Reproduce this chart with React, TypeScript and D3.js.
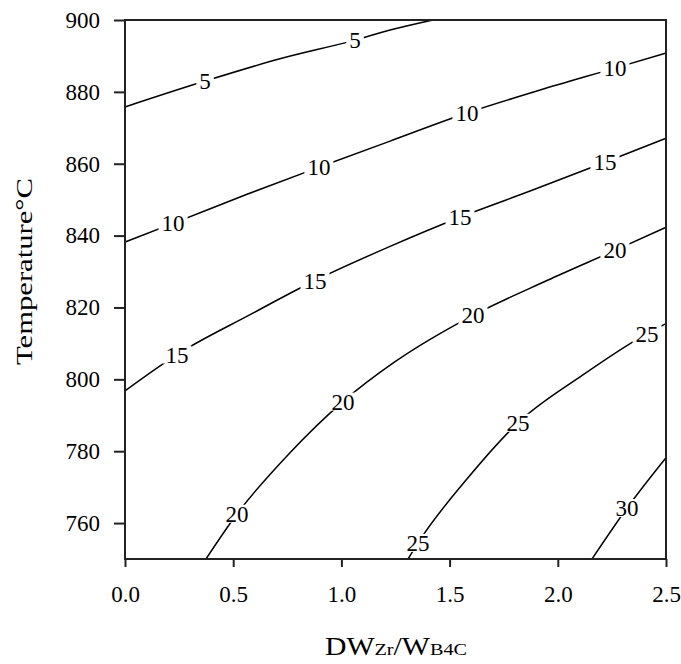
import React, { useEffect, useRef } from "react";
import * as d3 from "d3";

// contour lines: [DW_Zr/W_B4C, temperature]
const contour5: [number, number][] = [[0, 875.8], [0.37, 883.0], [0.716, 889.2], [1.063, 894.4], [1.225, 897.2], [1.423, 900]];
const contour10: [number, number][] = [[0, 838.2], [0.222, 843.4], [0.564, 851.5], [0.896, 859.0], [1.225, 866.3], [1.58, 874.1], [1.918, 880.5], [2.264, 886.6], [2.5, 890.8]];
const contour15: [number, number][] = [[0, 796.8], [0.24, 806.9], [0.578, 818.0], [0.878, 827.5], [1.225, 837.0], [1.548, 845.1], [1.881, 852.6], [2.218, 860.4], [2.5, 867.1]];
const contour20: [number, number][] = [[0.374, 750], [0.518, 762.6], [0.758, 779.3], [1.007, 793.8], [1.248, 804.9], [1.608, 817.8], [1.95, 827.5], [2.264, 835.9], [2.5, 842.3]];
const contour25: [number, number][] = [[1.308, 750], [1.354, 754.5], [1.585, 772.6], [1.816, 787.9], [2.111, 801.0], [2.412, 812.7], [2.5, 815.5]];
const contour30: [number, number][] = [[2.158, 750], [2.32, 764.2], [2.5, 778.2]];

const contours = [contour5, contour10, contour15, contour20, contour25, contour30];

// inline labels: [level, x, temperature]
const labels: [number, number, number][] = [
  [5, 0.37, 883.0], [5, 1.063, 894.4],
  [10, 0.222, 843.4], [10, 0.896, 859.0], [10, 1.58, 874.1], [10, 2.264, 886.6],
  [15, 0.24, 806.9], [15, 0.878, 827.5], [15, 1.548, 845.1], [15, 2.218, 860.4],
  [20, 0.518, 762.6], [20, 1.007, 793.8], [20, 1.608, 817.8], [20, 2.264, 835.9],
  [25, 1.354, 754.5], [25, 1.816, 787.9], [25, 2.412, 812.7],
  [30, 2.32, 764.2]
];

const xTicks = [0, 0.5, 1.0, 1.5, 2.0, 2.5];
const yTicks = [760, 780, 800, 820, 840, 860, 880, 900];

const FONT = "'Liberation Serif', 'Times New Roman', serif";

export default function App() {
  const ref = useRef<SVGSVGElement | null>(null);

  useEffect(() => {
    const margin = { top: 20, right: 15, bottom: 105, left: 125 };
    const width = 681 - margin.left - margin.right;
    const height = 664 - margin.top - margin.bottom;

    const root = d3.select(ref.current);
    root.selectAll("*").remove();

    const svg = root
      .append("g")
      .attr("transform", `translate(${margin.left},${margin.top})`);

    const xScale = d3.scaleLinear().domain([0, 2.5]).range([0, width]);
    const yScale = d3.scaleLinear().domain([750, 900]).range([height, 0]);

    // contour lines
    const line = d3
      .line<[number, number]>()
      .x((d) => xScale(d[0]))
      .y((d) => yScale(d[1]))
      .curve(d3.curveMonotoneX);

    svg.selectAll("path.contour")
      .data(contours)
      .enter()
      .append("path")
      .attr("class", "contour")
      .attr("fill", "none")
      .attr("stroke", "#000")
      .attr("stroke-width", 1.5)
      .attr("d", (d) => line(d));

    // labels sit on white patches so the line looks broken
    const lab = svg.selectAll("g.lab")
      .data(labels)
      .enter()
      .append("g")
      .attr("class", "lab")
      .attr("transform", (d) => `translate(${xScale(d[1])},${yScale(d[2])})`);

    lab.append("rect")
      .attr("x", (d) => -(String(d[0]).length * 11.5 + 6) / 2)
      .attr("y", -9)
      .attr("width", (d) => String(d[0]).length * 11.5 + 6)
      .attr("height", 18)
      .attr("fill", "#fff");

    lab.append("text")
      .attr("text-anchor", "middle")
      .attr("dy", "0.35em")
      .style("font-family", FONT)
      .style("font-size", "23px")
      .attr("fill", "#000")
      .text((d) => d[0]);

    // axes
    const xAxis = svg.append("g")
      .attr("transform", `translate(0,${height})`)
      .call(d3.axisBottom(xScale).tickValues(xTicks).tickSize(8).tickPadding(19).tickFormat(d3.format(".1f")));
    const yAxis = svg.append("g")
      .call(d3.axisLeft(yScale).tickValues(yTicks).tickSize(11).tickPadding(14).tickFormat(d3.format("d")));

    [xAxis, yAxis].forEach((ax) => {
      ax.select(".domain").remove();
      ax.selectAll("line").attr("stroke", "#222").attr("stroke-width", 2);
      ax.selectAll("text")
        .style("font-family", FONT)
        .style("font-size", "23px")
        .attr("fill", "#000");
    });

    svg.append("rect")
      .attr("width", width)
      .attr("height", height)
      .attr("fill", "none")
      .attr("stroke", "#222")
      .attr("stroke-width", 2);

    // axis titles
    root.append("text")
      .attr("transform", "translate(32,271.5) rotate(-90)")
      .attr("text-anchor", "middle")
      .attr("textLength", 187)
      .attr("lengthAdjust", "spacingAndGlyphs")
      .style("font-family", FONT)
      .style("font-size", "23px")
      .text("Temperature°C");

    const xt = root.append("text")
      .attr("x", 396)
      .attr("y", 655)
      .attr("text-anchor", "middle")
      .attr("textLength", 142)
      .attr("lengthAdjust", "spacingAndGlyphs")
      .style("font-family", FONT)
      .style("font-size", "25px");
    xt.append("tspan").text("DW");
    xt.append("tspan").style("font-size", "17px").text("ZR".charAt(0) + "r");
    xt.append("tspan").text("/W");
    xt.append("tspan").style("font-size", "17px").text("B4C");
  }, []);

  return (
    <div style={{ position: "absolute", left: 0, top: 0 }}>
      <svg ref={ref} width={681} height={664} style={{ display: "block", background: "#fff" }} />
    </div>
  );
}
